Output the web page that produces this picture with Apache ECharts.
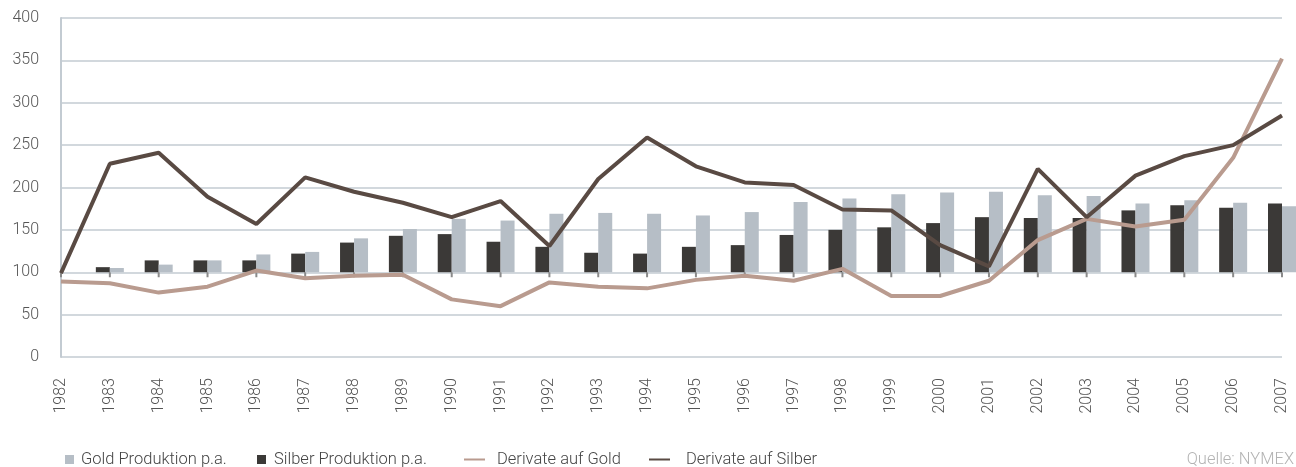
<!DOCTYPE html>
<html><head><meta charset="utf-8">
<script src="https://cdn.jsdelivr.net/npm/echarts@6/dist/echarts.min.js"></script>
<style>html,body{margin:0;padding:0;background:#fff}#c{width:1296px;height:467px}</style>
</head><body><div id="c"></div>
<script>
const years = ['1982','1983','1984','1985','1986','1987','1988','1989','1990','1991','1992','1993','1994','1995','1996','1997','1998','1999','2000','2001','2002','2003','2004','2005','2006','2007'];
const goldProd   = [null,105,109,114,121,124,140,151,163,161,169,170,169,167,171,183,187,192,194,195,191,190,181,185,182,178];
const silberProd = [null,106,114,114,114,122,135,143,145,136,130,123,122,130,132,144,150,153,158,165,164,164,173,179,176,181];
const derivGold  = [89,87,76,83,102,93,96,97,68,60,88,83,81,91,96,90,104,72,72,90,138,163,154,162,235,352];
const derivSilber= [99,228,241,189,157,212,195,182,165,184,131,210,259,225,206,203,174,173,132,107,222,165,214,237,250,285];
const yTicks = [0,50,100,150,200,250,300,350,400];

const C_GOLD_BAR = '#b6bec6', C_SILB_BAR = '#3b3937', C_GOLD_LINE = '#b99b8f', C_SILB_LINE = '#594a43';
const FONT = 'Roboto';
const BASE = 100;

function barRender(offset, color){
  return function(params, api){
    const v = api.value(1);
    if (v == null || isNaN(v)) return;
    const top = api.coord([api.value(0), v]);
    const base = api.coord([api.value(0), BASE]);
    return {type:'rect', shape:{x: top[0] + offset, y: top[1], width: 14, height: base[1] - top[1]}, style:{fill: color}};
  };
}
function tickRender(params, api){
  const p = api.coord([api.value(0), BASE]);
  return {type:'line', shape:{x1:p[0], y1:p[1], x2:p[0], y2:p[1]+5}, style:{stroke:'#8a8a8a', lineWidth:2}};
}
const legendText = {color:'#444', fontSize:16.5, fontFamily:FONT, fontWeight:300};
const chart = echarts.init(document.getElementById('c'), null, {renderer:'canvas'});
chart.setOption({
  animation:false,
  textStyle:{fontFamily:FONT},
  grid:{left:61, right:14, top:18, bottom:110},
  xAxis:{type:'category', data:years, boundaryGap:false,
     axisLine:{show:false}, axisTick:{show:false},
     axisLabel:{rotate:90, margin:21, color:'#555', fontSize:16, fontFamily:FONT, fontWeight:300, interval:0}},
  yAxis:{type:'value', min:0, max:400, interval:50,
     axisLine:{show:true, lineStyle:{color:'#c3cbd2', width:2}}, axisTick:{show:false},
     splitLine:{lineStyle:{color:'#c3cbd2', width:1.5}},
     axisLabel:{color:'#555', fontSize:16, margin:22, fontFamily:FONT, fontWeight:300}},
  legend:[
    {left:65, top:451, padding:0, icon:'rect', itemWidth:9, itemHeight:9, data:['Gold Produktion p.a.'],
     textStyle:Object.assign({padding:[0,0,0,2]}, legendText)},
    {left:257, top:451, padding:0, icon:'rect', itemWidth:9, itemHeight:9, data:['Silber Produktion p.a.'],
     textStyle:Object.assign({padding:[0,0,0,3]}, legendText)},
    {left:464, top:451, padding:0, icon:'rect', itemWidth:21, itemHeight:2, data:['Derivate auf Gold'],
     textStyle:Object.assign({padding:[0,0,0,7]}, legendText)},
    {left:649, top:451, padding:0, icon:'rect', itemWidth:21, itemHeight:2, data:['Derivate auf Silber'],
     textStyle:Object.assign({padding:[0,0,0,11]}, legendText)}
  ],
  title:{text:'Quelle: NYMEX', right:2, top:451, padding:0, textStyle:{color:'#b3b3b3', fontSize:16.5, fontWeight:300, fontFamily:FONT}},
  series:[
    {name:'ticks', type:'custom', renderItem:tickRender, silent:true,
     data: years.map((y,i)=>[i]), encode:{x:0}},
    {name:'Silber Produktion p.a.', type:'custom',
     itemStyle:{color:C_SILB_BAR}, renderItem:barRender(-14, C_SILB_BAR),
     data: silberProd.map((v,i)=>[i,v]), encode:{x:0,y:1}},
    {name:'Gold Produktion p.a.', type:'custom',
     itemStyle:{color:C_GOLD_BAR}, renderItem:barRender(0, C_GOLD_BAR),
     data: goldProd.map((v,i)=>[i,v]), encode:{x:0,y:1}},
    {name:'Derivate auf Gold', type:'line', data:derivGold, symbol:'none',
     lineStyle:{color:C_GOLD_LINE, width:4}, itemStyle:{color:C_GOLD_LINE}},
    {name:'Derivate auf Silber', type:'line', data:derivSilber, symbol:'none',
     lineStyle:{color:C_SILB_LINE, width:4}, itemStyle:{color:C_SILB_LINE}}
  ]
});
</script></body></html>
